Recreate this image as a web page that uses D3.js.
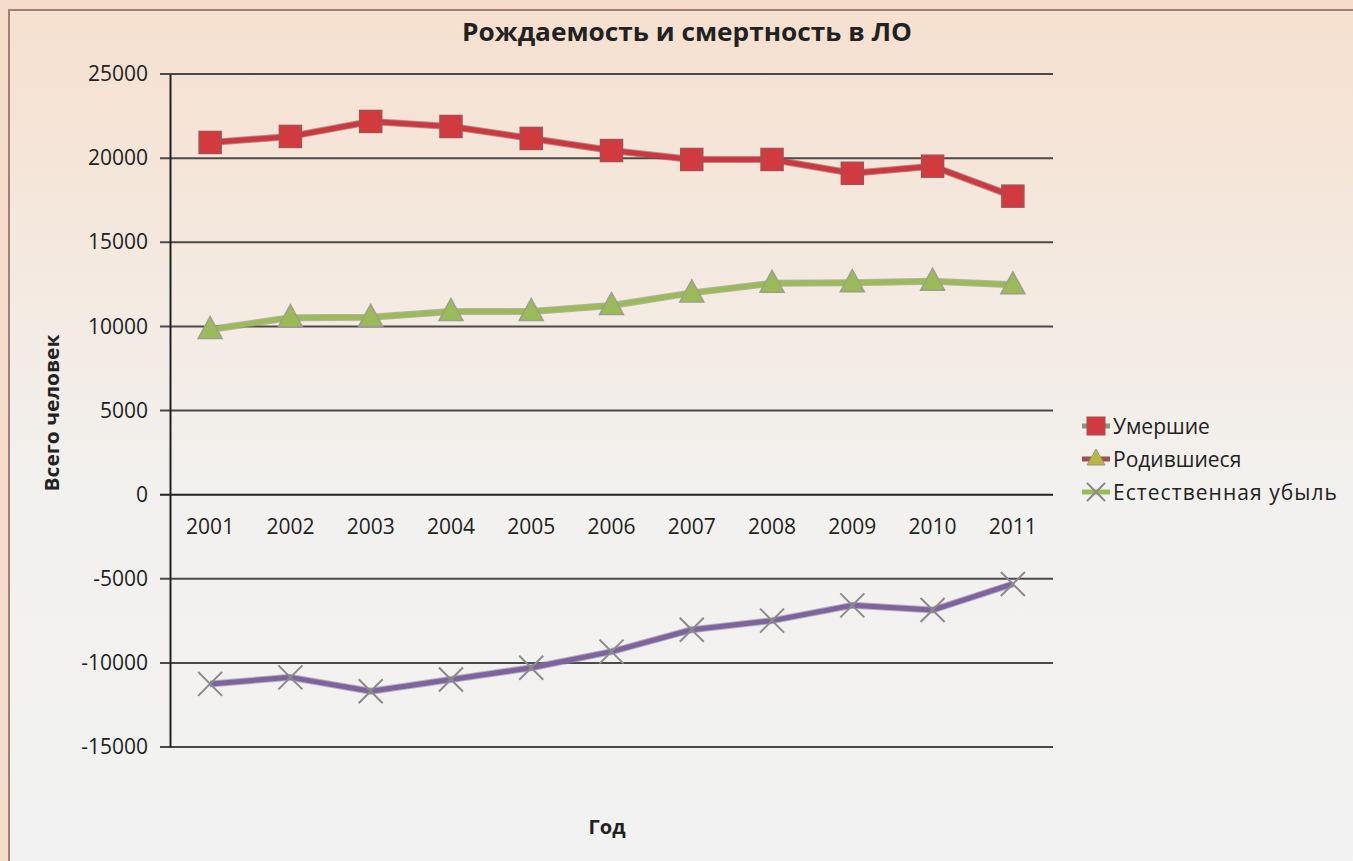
<!DOCTYPE html>
<html>
<head>
<meta charset="utf-8">
<script src="https://cdn.jsdelivr.net/npm/d3@7"></script>
<style>
  body { margin: 0; background: #f5dccb; }
  svg { display: block; }
</style>
</head>
<body>
<div id="chart"></div>
<script>
// данные графика
const years = ['2001', '2002', '2003', '2004', '2005', '2006', '2007', '2008', '2009', '2010', '2011'];
const deaths = [20930, 21290, 22180, 21880, 21170, 20450, 19920, 19920, 19100, 19520, 17740];
const births = [9810, 10520, 10540, 10880, 10880, 11240, 11990, 12560, 12600, 12680, 12470];
const naturalLoss = [-11250, -10860, -11690, -10990, -10290, -9330, -8030, -7490, -6580, -6860, -5310];
const seriesNames = ['Умершие', 'Родившиеся', 'Естественная убыль'];
const yTicks = [25000, 20000, 15000, 10000, 5000, 0, -5000, -10000, -15000];

const width = 1353;
const height = 861;
const font = 'Open Sans, sans-serif';

const svg = d3.select('#chart')
    .append('svg')
    .attr('width', width)
    .attr('height', height);

// фон с градиентом
const defs = svg.append('defs');
const grad = defs.append('linearGradient')
    .attr('id', 'bg')
    .attr('x1', 0).attr('y1', 0).attr('x2', 0).attr('y2', 1);
grad.append('stop').attr('offset', '0%').attr('stop-color', '#f6e0cf');
grad.append('stop').attr('offset', '55%').attr('stop-color', '#f2f1ef');
grad.append('stop').attr('offset', '100%').attr('stop-color', '#f2f2f2');

svg.append('rect')
    .attr('x', 0).attr('y', 0)
    .attr('width', width).attr('height', height)
    .attr('fill', '#f5dccb');

svg.append('rect')
    .attr('x', 9).attr('y', 10)
    .attr('width', width + 20).attr('height', height + 20)
    .attr('fill', 'url(#bg)')
    .attr('stroke', '#a08078')
    .attr('stroke-width', 2);

// область построения
const plot = { left: 170, right: 1053, top: 74, bottom: 747 };

const x = d3.scaleBand()
    .domain(years)
    .range([plot.left, plot.right]);

const y = d3.scaleLinear()
    .domain([-15000, 25000])
    .range([plot.bottom, plot.top]);

const cx = d => x(d) + x.bandwidth() / 2;

// сетка
svg.append('g')
    .selectAll('line')
    .data(yTicks)
    .join('line')
    .attr('x1', plot.left - 10)
    .attr('x2', plot.right)
    .attr('y1', d => y(d))
    .attr('y2', d => y(d))
    .attr('stroke', d => d === 0 ? '#222' : '#4a4a4a')
    .attr('stroke-width', 2);

// ось Y
const yAxis = svg.append('g')
    .attr('transform', `translate(${plot.left},0)`)
    .call(d3.axisLeft(y).tickValues(yTicks).tickSize(0).tickPadding(22).tickFormat(d => String(d)));
yAxis.select('.domain').attr('stroke', '#222').attr('stroke-width', 2);
yAxis.selectAll('text')
    .attr('font-family', font)
    .attr('font-size', 21)
    .attr('fill', '#222');

// подписи категорий у нулевой линии
svg.append('g')
    .selectAll('text')
    .data(years)
    .join('text')
    .attr('x', d => cx(d))
    .attr('y', y(0) + 39)
    .attr('text-anchor', 'middle')
    .attr('font-family', font)
    .attr('font-size', 21)
    .attr('fill', '#222')
    .text(d => d);

// линии серий
const series = [
    { name: seriesNames[0], values: deaths, color: '#c9393f', edge: '#9a4448', marker: 'square' },
    { name: seriesNames[1], values: births, color: '#9bbb59', edge: '#8c8c7a', marker: 'triangle' },
    { name: seriesNames[2], values: naturalLoss, color: '#7f63a1', edge: '#8a8a8a', marker: 'cross' }
];

const line = d3.line()
    .x((d, i) => cx(years[i]))
    .y(d => y(d));

function drawMarker(g, type, px, py) {
    if (type === 'square') {
        g.append('rect')
            .attr('x', px - 11).attr('y', py - 11)
            .attr('width', 22).attr('height', 22)
            .attr('fill', '#d13b40')
            .attr('stroke', '#a8504f')
            .attr('stroke-width', 1.5);
    } else if (type === 'triangle') {
        g.append('path')
            .attr('d', `M${px},${py - 13} L${px + 12},${py + 9} L${px - 12},${py + 9} Z`)
            .attr('fill', '#9bbb59')
            .attr('stroke', '#9aa08a')
            .attr('stroke-width', 1.5);
    } else {
        g.append('path')
            .attr('d', `M${px - 12},${py - 12} L${px + 12},${py + 12} M${px - 12},${py + 12} L${px + 12},${py - 12}`)
            .attr('stroke', '#8a8a8a')
            .attr('stroke-width', 2)
            .attr('fill', 'none');
    }
}

series.forEach(s => {
    const g = svg.append('g');
    g.append('path')
        .datum(s.values)
        .attr('d', line)
        .attr('fill', 'none')
        .attr('stroke', s.edge)
        .attr('stroke-width', 7)
        .attr('stroke-linejoin', 'round')
        .attr('opacity', 0.6);
    g.append('path')
        .datum(s.values)
        .attr('d', line)
        .attr('fill', 'none')
        .attr('stroke', s.color)
        .attr('stroke-width', 5)
        .attr('stroke-linejoin', 'round');
    s.values.forEach((v, i) => drawMarker(g, s.marker, cx(years[i]), y(v)));
});

// заголовок
svg.append('text')
    .attr('x', 687)
    .attr('y', 41)
    .attr('text-anchor', 'middle')
    .attr('font-family', font)
    .attr('font-weight', 'bold')
    .attr('font-size', 25)
    .attr('textLength', 450)
    .attr('lengthAdjust', 'spacingAndGlyphs')
    .attr('fill', '#222')
    .text('Рождаемость и смертность в ЛО');

// подписи осей
svg.append('text')
    .attr('transform', 'translate(59,413) rotate(-90)')
    .attr('text-anchor', 'middle')
    .attr('font-family', font)
    .attr('font-weight', 'bold')
    .attr('font-size', 20)
    .attr('textLength', 157)
    .attr('lengthAdjust', 'spacingAndGlyphs')
    .attr('fill', '#222')
    .text('Всего человек');

svg.append('text')
    .attr('x', 607)
    .attr('y', 834)
    .attr('text-anchor', 'middle')
    .attr('font-family', font)
    .attr('font-weight', 'bold')
    .attr('font-size', 20)
    .attr('fill', '#222')
    .text('Год');

// легенда (цвета линий в легенде как на исходной картинке)
const legendLine = ['#7f9a80', '#a0504a', '#9bbb59'];
const legend = svg.append('g');
series.forEach((s, i) => {
    const ly = 426 + i * 33;
    legend.append('line')
        .attr('x1', 1082).attr('x2', 1110)
        .attr('y1', ly).attr('y2', ly)
        .attr('stroke', legendLine[i])
        .attr('stroke-width', 5);
    if (s.marker === 'square') {
        legend.append('rect')
            .attr('x', 1087).attr('y', ly - 9)
            .attr('width', 18).attr('height', 18)
            .attr('fill', '#d13b40')
            .attr('stroke', '#a8504f');
    } else if (s.marker === 'triangle') {
        legend.append('path')
            .attr('d', `M1096,${ly - 10} L1105,${ly + 6} L1087,${ly + 6} Z`)
            .attr('fill', '#b8b84a')
            .attr('stroke', '#9a9a7a');
    } else {
        legend.append('path')
            .attr('d', `M1087,${ly - 9} L1105,${ly + 9} M1087,${ly + 9} L1105,${ly - 9}`)
            .attr('stroke', '#8a8a8a')
            .attr('stroke-width', 2);
    }
    legend.append('text')
        .attr('x', 1113)
        .attr('y', ly + 8)
        .attr('font-family', font)
        .attr('font-size', 21)
        .attr('textLength', i === 2 ? 224 : null)
        .attr('fill', '#222')
        .text(s.name);
});
</script>
</body>
</html>
